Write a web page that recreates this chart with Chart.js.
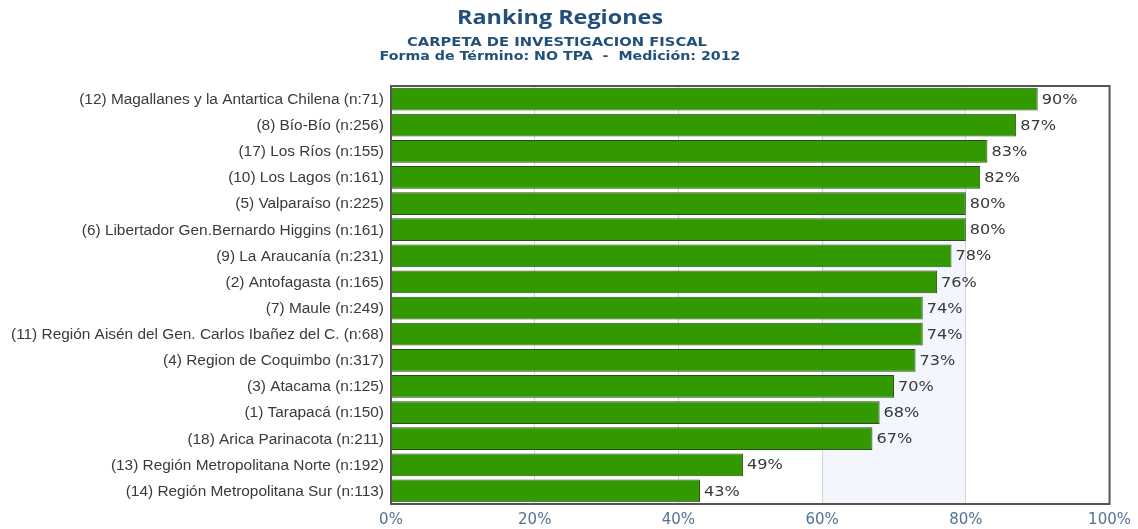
<!DOCTYPE html>
<html>
<head>
<meta charset="utf-8">
<script src="https://cdn.jsdelivr.net/npm/chart.js@4.4.1/dist/chart.umd.min.js"></script>
<style>
  html, body { margin: 0; padding: 0; background: #ffffff; }
  #wrap { width: 1138px; height: 529px; }
</style>
</head>
<body>
<div id="wrap"><canvas id="c" width="1138" height="529"></canvas></div>
<script>
const titleText = "Ranking Regiones";
const subtitleLines = ["CARPETA DE INVESTIGACION FISCAL", "Forma de Término: NO TPA  -  Medición: 2012"];

const categories = [
  "(12) Magallanes y la Antartica Chilena (n:71)",
  "(8) Bío-Bío (n:256)",
  "(17) Los Ríos (n:155)",
  "(10) Los Lagos (n:161)",
  "(5) Valparaíso (n:225)",
  "(6) Libertador Gen.Bernardo Higgins (n:161)",
  "(9) La Araucanía (n:231)",
  "(2) Antofagasta (n:165)",
  "(7) Maule (n:249)",
  "(11) Región Aisén del Gen. Carlos Ibañez del C. (n:68)",
  "(4) Region de Coquimbo (n:317)",
  "(3) Atacama (n:125)",
  "(1) Tarapacá (n:150)",
  "(18) Arica Parinacota (n:211)",
  "(13) Región Metropolitana Norte (n:192)",
  "(14) Región Metropolitana Sur (n:113)"
];
const values = [90, 87, 83, 82, 80, 80, 78, 76, 74, 74, 73, 70, 68, 67, 49, 43];
const xTickValues = [0, 20, 40, 60, 80, 100];
const bandRange = [60, 80];

// draw text with a horizontal stretch factor sx
function stretchedText(ctx, text, x, y, sx, align) {
  ctx.save();
  ctx.translate(x, y);
  ctx.scale(sx, 1);
  ctx.textAlign = align;
  ctx.fillText(text, 0, 0);
  ctx.restore();
}

const titlePlugin = {
  id: 'titles',
  afterDraw(chart) {
    const ctx = chart.ctx;
    ctx.save();
    ctx.textBaseline = 'middle';
    ctx.fillStyle = '#22507a';
    ctx.font = 'bold 20px "Open Sans", "DejaVu Sans", sans-serif';
    let w = ctx.measureText(titleText).width;
    stretchedText(ctx, titleText, 560, 18, 206 / w, 'center');
    ctx.font = 'bold 13px "DejaVu Sans", sans-serif';
    w = ctx.measureText(subtitleLines[0]).width;
    stretchedText(ctx, subtitleLines[0], 557, 43, 300 / w, 'center');
    w = ctx.measureText(subtitleLines[1]).width;
    stretchedText(ctx, subtitleLines[1], 560, 57, 361 / w, 'center');
    ctx.restore();
  }
};

const bandPlugin = {
  id: 'band',
  beforeDraw(chart) {
    const { ctx, chartArea, scales } = chart;
    const x1 = scales.x.getPixelForValue(bandRange[0]);
    const x2 = scales.x.getPixelForValue(bandRange[1]);
    ctx.save();
    ctx.fillStyle = '#f3f6fc';
    ctx.fillRect(x1, chartArea.top, x2 - x1, chartArea.bottom - chartArea.top);
    ctx.restore();
  }
};

const labelFramePlugin = {
  id: 'labelsFrame',
  afterDatasetsDraw(chart) {
    const { ctx, chartArea, scales } = chart;
    const meta = chart.getDatasetMeta(0);
    ctx.save();
    ctx.textBaseline = 'middle';
    // value labels
    ctx.font = '14px "DejaVu Sans", sans-serif';
    ctx.fillStyle = '#383838';
    meta.data.forEach((bar, i) => {
      stretchedText(ctx, values[i] + '%', bar.x + 4, bar.y + 1, 1.15, 'left');
    });
    // category labels
    ctx.font = '14px "Liberation Sans", Arial, sans-serif';
    ctx.fillStyle = '#3a3a3a';
    const refW = ctx.measureText(categories[9]).width;
    const sx = 373 / refW;
    categories.forEach((c, i) => {
      stretchedText(ctx, c, 384, scales.y.getPixelForValue(i) + 1, sx, 'right');
    });
    // frame
    ctx.strokeStyle = '#555555';
    ctx.lineWidth = 2;
    ctx.strokeRect(chartArea.left, chartArea.top, chartArea.right - chartArea.left, chartArea.bottom - chartArea.top);
    ctx.restore();
  }
};

new Chart(document.getElementById('c'), {
  type: 'bar',
  data: {
    labels: categories,
    datasets: [{
      data: values,
      backgroundColor: '#339900',
      borderColor: '#2b4f1c',
      borderWidth: 1,
      barPercentage: 0.87,
      categoryPercentage: 1.0
    }]
  },
  options: {
    indexAxis: 'y',
    responsive: false,
    animation: false,
    devicePixelRatio: 1,
    layout: { padding: { top: 86, right: 27, bottom: 0, left: 0 } },
    plugins: {
      legend: { display: false },
      tooltip: { enabled: false },
      title: { display: false }
    },
    scales: {
      x: {
        min: 0,
        max: 100,
        afterBuildTicks(scale) {
          scale.ticks = xTickValues.map(v => ({ value: v }));
        },
        afterFit(scale) { scale.height = 25; },
        ticks: {
          callback: v => v + '%',
          font: { family: '"DejaVu Sans", sans-serif', size: 15 },
          color: '#4f7399',
          padding: 7,
          maxRotation: 0
        },
        grid: { color: '#d4d4d4', lineWidth: 1, drawTicks: false },
        border: { display: false }
      },
      y: {
        afterFit(scale) { scale.width = 391; },
        ticks: { display: false, autoSkip: false },
        grid: { display: false, drawTicks: false },
        border: { display: false }
      }
    }
  },
  plugins: [bandPlugin, labelFramePlugin, titlePlugin]
});
</script>
</body>
</html>
